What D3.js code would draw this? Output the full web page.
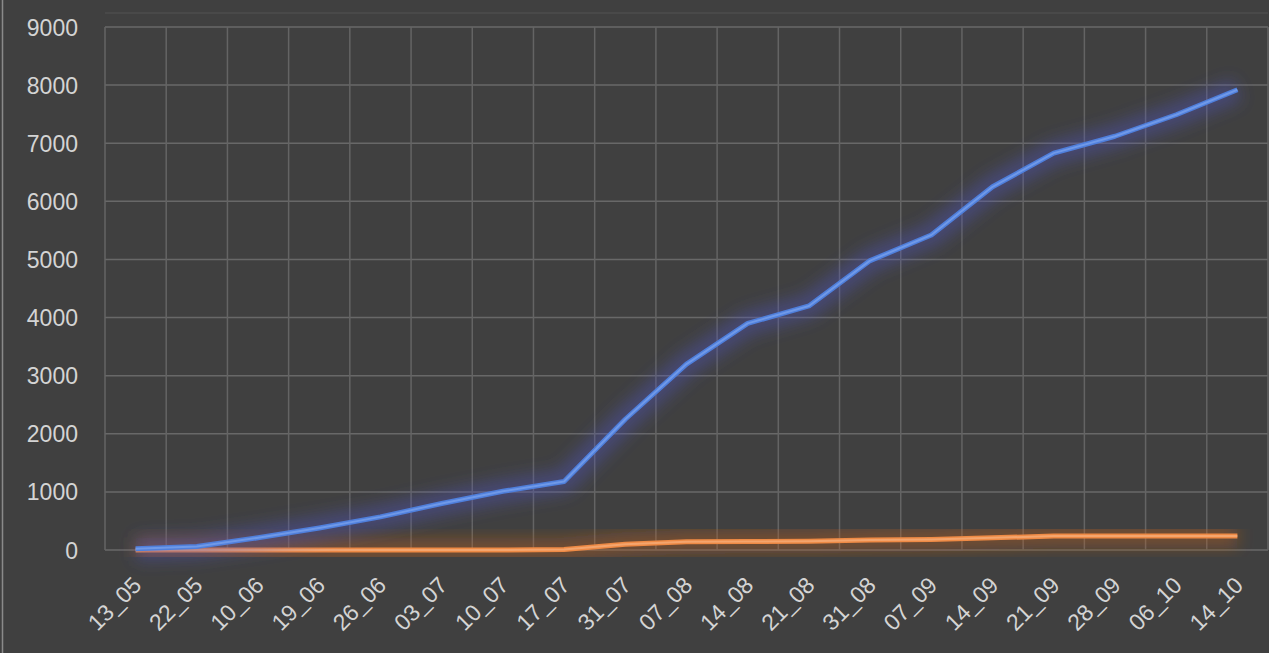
<!DOCTYPE html>
<html><head><meta charset="utf-8">
<script src="https://cdn.jsdelivr.net/npm/d3@7"></script>
<style>
html,body{margin:0;padding:0;background:#404040;}
svg{display:block;}
</style></head>
<body>
<svg id="chart" width="1269" height="653"></svg>
<script>
const categories = ["13_05","22_05","10_06","19_06","26_06","03_07","10_07","17_07","31_07","07_08","14_08","21_08","31_08","07_09","14_09","21_09","28_09","06_10","14_10"];
const blueValues = [20, 60, 210, 380, 570, 800, 1010, 1180, 2250, 3200, 3900, 4200, 4980, 5420, 6250, 6830, 7120, 7490, 7920];
const orangeValues = [0, 0, 0, 0, 0, 0, 0, 10, 100, 140, 145, 150, 170, 180, 210, 240, 240, 240, 240];
const yTicks = [0,1000,2000,3000,4000,5000,6000,7000,8000,9000];

(function(){
const svg = d3.select("#chart");
const W = 1269, H = 653;
const mLeft = 105, mRight = 1268, mTop = 27, mBottom = 550;

svg.append("rect").attr("width", W).attr("height", H).attr("fill", "#404040");
svg.append("line").attr("x1",2.5).attr("x2",2.5).attr("y1",0).attr("y2",H).attr("stroke","#8a8a8a").attr("stroke-width",1.5);

const x = d3.scalePoint().domain(categories).range([mLeft, mRight]).padding(0.5);
const y = d3.scaleLinear().domain([0, 9000]).range([mBottom, mTop]);
const step = x.step();

const defs = svg.append("defs");
const f1 = defs.append("filter").attr("id","glow").attr("x","-10%").attr("y","-50%").attr("width","120%").attr("height","200%");
f1.append("feGaussianBlur").attr("stdDeviation", 8);

svg.append("line").attr("x1", mLeft).attr("x2", mRight).attr("y1", 13).attr("y2", 13).attr("stroke", "#4c4c4c").attr("stroke-width", 1.5);

svg.append("g").selectAll("line").data(yTicks).join("line")
  .attr("x1", mLeft).attr("x2", mRight)
  .attr("y1", d => y(d)).attr("y2", d => y(d))
  .attr("stroke", "#686868").attr("stroke-width", 1.5);

const bounds = categories.map(c => x(c) - step/2).concat([x(categories[categories.length-1]) + step/2]);
svg.append("g").selectAll("line").data(bounds).join("line")
  .attr("x1", d => d).attr("x2", d => d)
  .attr("y1", mTop).attr("y2", mBottom)
  .attr("stroke", "#646464").attr("stroke-width", 1.5);

const yAxis = d3.axisLeft(y).tickValues(yTicks).tickSize(0).tickPadding(0).tickFormat(d3.format("d"));
const gy = svg.append("g").attr("transform", `translate(78,0)`).call(yAxis);
gy.select(".domain").remove();
gy.selectAll("text").attr("fill", "#d4d4d4").style("font-family", "'Liberation Sans', Arial, sans-serif").style("font-size", "23px").attr("dy", "0.35em");

const xAxis = d3.axisBottom(x).tickSize(0).tickPadding(0);
const gx = svg.append("g").attr("transform", `translate(0,${mBottom})`).call(xAxis);
gx.select(".domain").remove();
gx.selectAll("text")
  .attr("fill", "#d4d4d4")
  .style("font-family", "'Liberation Sans', Arial, sans-serif").style("font-size", "23px")
  .attr("text-anchor", "end")
  .attr("x", 0).attr("y", 0).attr("dy", "0.35em")
  .attr("transform", "translate(1,31) rotate(-45)");

const line = d3.line().x((d,i) => x(categories[i])).y(d => y(d));

function drawSeries(vals, glowColor, mainColor, coreColor) {
  const g = svg.append("g");
  g.append("path").attr("d", line(vals)).attr("fill","none")
    .attr("stroke", glowColor).attr("stroke-width", 24).attr("stroke-opacity", 0.4)
    .attr("filter","url(#glow)").attr("stroke-linejoin","round");
  g.append("path").attr("d", line(vals)).attr("fill","none")
    .attr("stroke", mainColor).attr("stroke-width", 5).attr("stroke-linejoin","round");
  g.append("path").attr("d", line(vals)).attr("fill","none")
    .attr("stroke", coreColor).attr("stroke-width", 2).attr("stroke-opacity", 0.6).attr("stroke-linejoin","round");
}
drawSeries(orangeValues, "#c0601a", "#ee8a45", "#f8b888");
drawSeries(blueValues, "#4f55c0", "#4f7fdc", "#86aaf0");
})();
</script>
</body></html>
